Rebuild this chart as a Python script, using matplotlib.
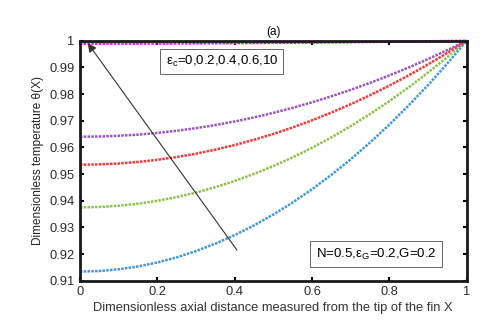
import matplotlib
matplotlib.use("Agg")
import matplotlib.pyplot as plt

plt.rcParams['font.family'] = ['Liberation Sans', 'DejaVu Sans']
plt.rcParams['mathtext.fontset'] = 'custom'
plt.rcParams['mathtext.rm'] = 'Liberation Sans'
plt.rcParams['mathtext.it'] = 'Liberation Sans'

X = [0, 0.05, 0.1, 0.15, 0.2, 0.25, 0.3, 0.35, 0.4, 0.45, 0.5,
     0.55, 0.6, 0.65, 0.7, 0.75, 0.8, 0.85, 0.9, 0.95, 1.0]

# one curve per epsilon_c value (0, 0.2, 0.4, 0.6, 10)
theta_blue = [0.91343, 0.91364, 0.91428, 0.91535, 0.91684, 0.91876, 0.92111,
              0.92389, 0.92710, 0.93074, 0.93482, 0.93934, 0.94429, 0.94968,
              0.95551, 0.96179, 0.96852, 0.97571, 0.98334, 0.99144, 1.0]
theta_green = [0.93750, 0.93766, 0.93812, 0.93889, 0.93997, 0.94137, 0.94307,
               0.94508, 0.94741, 0.95005, 0.95300, 0.95626, 0.95984, 0.96374,
               0.96795, 0.97249, 0.97734, 0.98252, 0.98802, 0.99385, 1.0]
theta_red = [0.95350, 0.95362, 0.95396, 0.95454, 0.95535, 0.95638, 0.95765,
             0.95916, 0.96089, 0.96286, 0.96506, 0.96749, 0.97015, 0.97306,
             0.97619, 0.97956, 0.98317, 0.98702, 0.99111, 0.99543, 1.0]
theta_purple = [0.96400, 0.96409, 0.96436, 0.96480, 0.96543, 0.96624, 0.96722,
                0.96839, 0.96973, 0.97125, 0.97296, 0.97484, 0.97691, 0.97916,
                0.98158, 0.98419, 0.98699, 0.98996, 0.99313, 0.99647, 1.0]
theta_magenta = [0.99895, 0.99895, 0.99896, 0.99897, 0.99899, 0.99901, 0.99904,
                 0.99908, 0.99912, 0.99916, 0.99921, 0.99927, 0.99933, 0.99940,
                 0.99947, 0.99954, 0.99962, 0.99971, 0.99980, 0.99990, 1.0]

series = [
    (theta_blue, '#3f97dd'),
    (theta_green, '#8cc24a'),
    (theta_red, '#ff3333'),
    (theta_purple, '#9b55b8'),
    (theta_magenta, '#ff00ff'),
]

fig = plt.figure(figsize=(4.8, 3.21), dpi=100)
ax = fig.add_axes([0.1667, 0.1255, 0.8053, 0.7475])

for y, c in series:
    ax.plot(X, y, color=c, linewidth=1.8, linestyle=(0, (1, 0.5)), clip_on=False)

ax.set_xlim(0, 1)
ax.set_ylim(0.91, 1.0)
ax.set_xticks([0, 0.2, 0.4, 0.6, 0.8, 1])
ax.set_xticklabels(['0', '0.2', '0.4', '0.6', '0.8', '1'])
ax.set_yticks([0.91, 0.92, 0.93, 0.94, 0.95, 0.96, 0.97, 0.98, 0.99, 1.0])
ax.set_yticklabels(['0.91', '0.92', '0.93', '0.94', '0.95', '0.96',
                    '0.97', '0.98', '0.99', '1'])
ax.tick_params(direction='in', top=True, right=True, length=3, width=1.5,
               labelsize=9.3, labelcolor='#2a2a2a', pad=4)
for s in ax.spines.values():
    s.set_linewidth(2)
    s.set_color('#1a1a1a')

ax.set_xlabel('Dimensionless axial distance measured from the tip of the fin X',
              fontsize=9.3, color='#333333', labelpad=3)
ax.set_ylabel('Dimensionless temperature θ(X)', fontsize=8.5, color='#222222',
              labelpad=4)
ax.set_title('(a)', fontsize=8.5, pad=4)

ax.annotate('', xy=(0.02, 0.9991), xytext=(0.406, 0.9215),
            arrowprops=dict(arrowstyle='-|>', color='#333333', lw=0.8,
                            mutation_scale=13, shrinkA=0, shrinkB=0))

box = dict(boxstyle='square,pad=0.4', facecolor='white', edgecolor='#666666', lw=0.7)
ax.text(0.367, 0.913, r'ε$_\mathrm{c}$=0,0.2,0.4,0.6,10', transform=ax.transAxes,
        ha='center', va='center', fontsize=9.5, bbox=box)
ax.text(0.766, 0.111, r'N=0.5,ε$_\mathrm{G}$=0.2,G=0.2', transform=ax.transAxes,
        ha='center', va='center', fontsize=9.5, bbox=box)

fig.savefig('out.png', dpi=100)
